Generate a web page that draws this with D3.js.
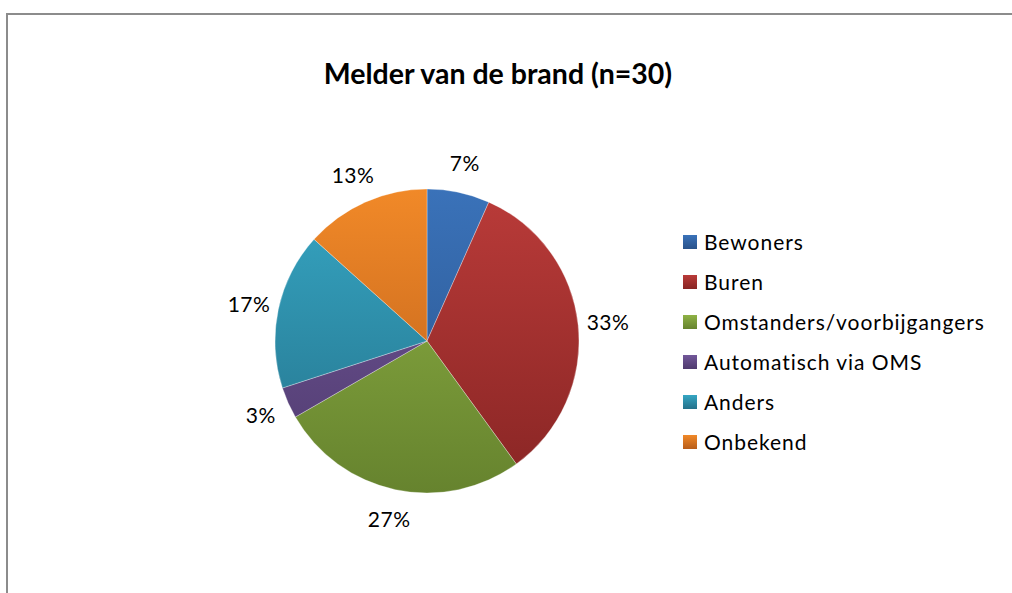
<!DOCTYPE html>
<html>
<head>
<meta charset="utf-8">
<script src="https://cdn.jsdelivr.net/npm/d3@7"></script>
<style>
  html, body { margin: 0; padding: 0; background: #fff; }
  svg { display: block; font-family: Lato, "Open Sans", sans-serif; }
</style>
</head>
<body>
<svg id="chart" width="1012" height="593"></svg>
<script>
// Melder van de brand (n=30)
const title = 'Melder van de brand (n=30)';
const categories = ['Bewoners', 'Buren', 'Omstanders/voorbijgangers', 'Automatisch via OMS', 'Anders', 'Onbekend'];
const counts = [2, 10, 8, 1, 5, 4];
const topColors = ['#3a72b9', '#ba3b39', '#8fb245', '#72589a', '#36a6c3', '#f18928'];
const bottomColors = ['#29528a', '#882524', '#66832e', '#4f3a6e', '#24718a', '#b85d1a'];

const width = 1012, height = 593;
const cx = 427, cy = 341, radius = 152;

const svg = d3.select('#chart');
const defs = svg.append('defs');

// Frame (runs off the right and bottom edges)
svg.append('path')
  .attr('d', `M7,${height + 2} V14 H${width + 2}`)
  .attr('fill', 'none')
  .attr('stroke', '#8c8c8c')
  .attr('stroke-width', 2);

// Title
svg.append('text')
  .attr('x', 498)
  .attr('y', 84)
  .attr('text-anchor', 'middle')
  .attr('font-size', 28.5)
  .attr('font-weight', 'bold')
  .attr('fill', '#000')
  .text(title);

// Gradients: vertical over the whole pie (coords local to the pie group)
categories.forEach((c, i) => {
  const grad = defs.append('linearGradient')
    .attr('id', 'grad' + i)
    .attr('gradientUnits', 'userSpaceOnUse')
    .attr('x1', 0).attr('x2', 0)
    .attr('y1', -radius).attr('y2', radius);
  grad.append('stop').attr('offset', '0%').attr('stop-color', topColors[i]);
  grad.append('stop').attr('offset', '100%').attr('stop-color', bottomColors[i]);

  const lg = defs.append('linearGradient')
    .attr('id', 'lg' + i)
    .attr('x1', 0).attr('x2', 0).attr('y1', 0).attr('y2', 1);
  lg.append('stop').attr('offset', '0%').attr('stop-color', topColors[i]);
  lg.append('stop').attr('offset', '100%').attr('stop-color', bottomColors[i]);
});

const total = d3.sum(counts);
const pie = d3.pie().sort(null).value(d => d)(counts);
const arc = d3.arc().innerRadius(0).outerRadius(radius);
const labelArc = d3.arc().innerRadius(radius + 30).outerRadius(radius + 30);

const g = svg.append('g').attr('transform', `translate(${cx},${cy})`);

g.selectAll('path')
  .data(pie)
  .join('path')
  .attr('d', arc)
  .attr('fill', (d, i) => `url(#grad${i})`)
  .attr('stroke', '#fff')
  .attr('stroke-width', 0.5)
  .attr('stroke-opacity', 0.6);

g.selectAll('text')
  .data(pie)
  .join('text')
  .attr('transform', d => `translate(${labelArc.centroid(d)})`)
  .attr('text-anchor', 'middle')
  .attr('dy', '0.4em')
  .attr('font-size', 21)
  .attr('letter-spacing', 0.5)
  .attr('fill', '#000')
  .text(d => d3.format('.0%')(d.data / total));

// Legend
const legend = svg.append('g')
  .selectAll('g')
  .data(categories)
  .join('g')
  .attr('transform', (d, i) => `translate(683,${242 + i * 40})`);

legend.append('rect')
  .attr('x', 0)
  .attr('y', -7)
  .attr('width', 14)
  .attr('height', 14)
  .attr('fill', (d, i) => `url(#lg${i})`);

legend.append('text')
  .attr('x', 21)
  .attr('dy', '0.36em')
  .attr('font-size', 21)
  .attr('letter-spacing', 0.95)
  .attr('fill', '#000')
  .text(d => d);
</script>
</body>
</html>
